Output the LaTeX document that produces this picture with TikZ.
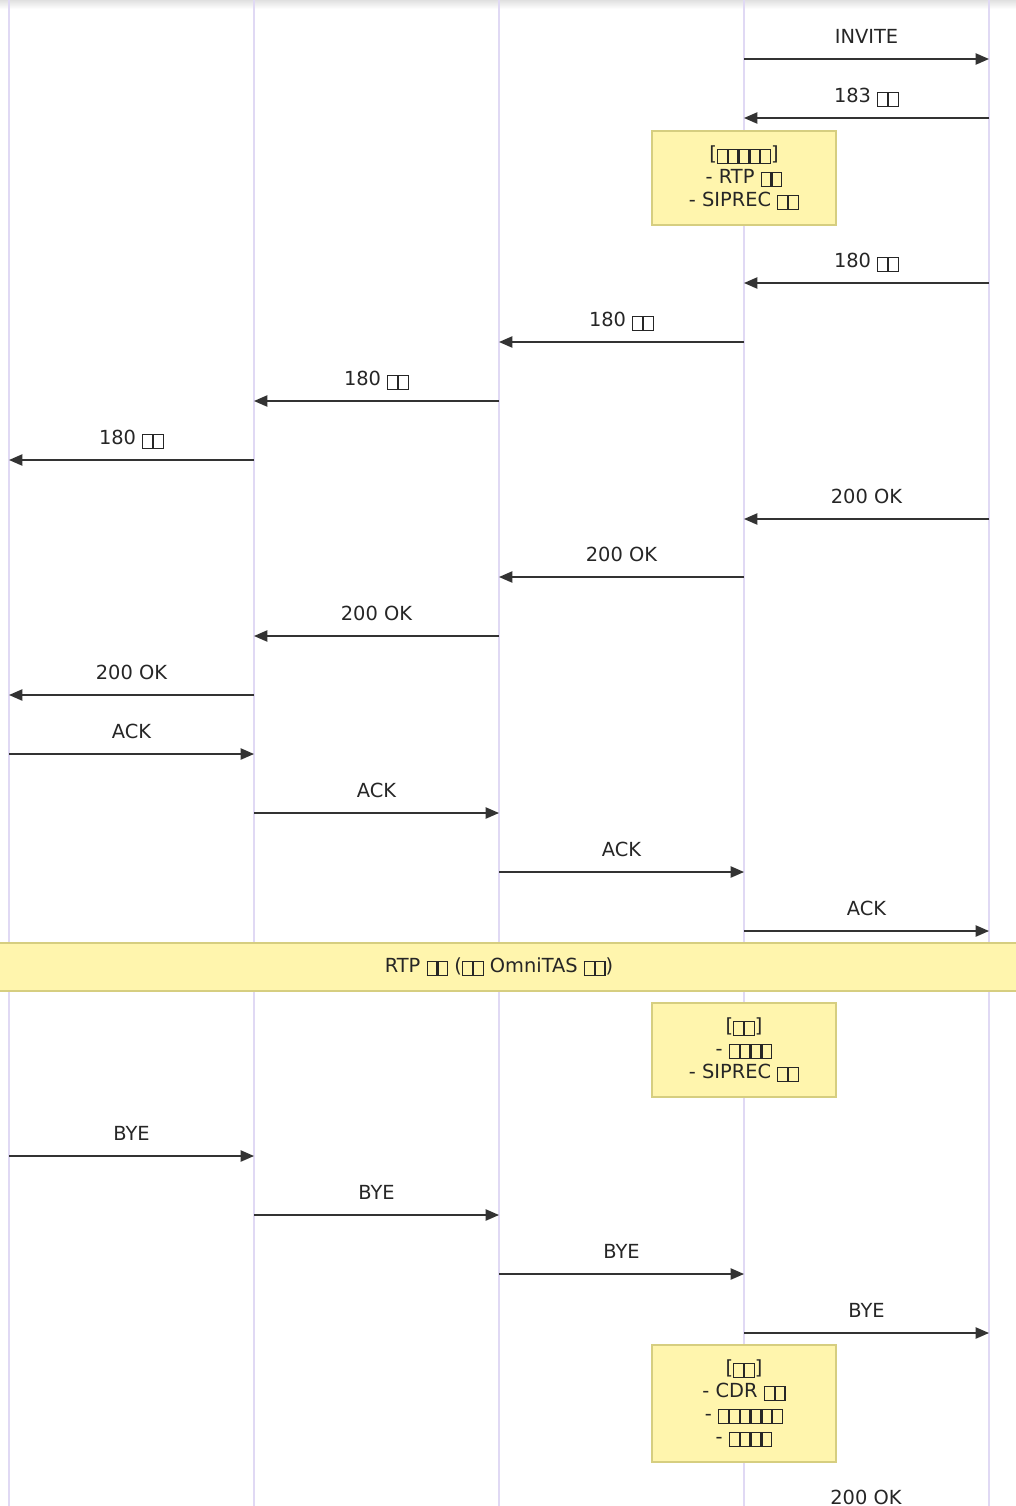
\documentclass[tikz,border=0pt]{standalone}
\usepackage{fontspec}
\setmainfont{DejaVu Sans}
\usepackage{xcolor}
\usetikzlibrary{arrows.meta}
\definecolor{lifeline}{HTML}{E0D9F4}
\definecolor{notefill}{HTML}{FFF5AD}
\definecolor{notedraw}{HTML}{D6CE80}
\definecolor{msgline}{HTML}{333333}
% missing glyph box, as the picture prints it
\newcommand{\tofu}{\raisebox{-0.14em}{\fboxsep=0pt\fboxrule=0.06em\fbox{\rule{0pt}{0.66em}\rule{0.44em}{0pt}}}}

\begin{document}
\begin{tikzpicture}[x=0.025cm, y=-0.025cm,
    every node/.style={font=\fontsize{13.8}{16.3}\selectfont, text=black!85},
    msg/.style={-{Triangle[length=9.5pt,width=8pt]}, line width=1.1pt, msgline},
    note/.style={draw=notedraw, fill=notefill, line width=0.8pt, align=center, inner sep=0pt}]
   \useasboundingbox (0,0) rectangle (1016,1506);
   % Shadow along the top
   \shade[top color=black!12, bottom color=white] (0,0) rectangle (1016,9);
   % Lifelines
   \foreach \n/\x in {a/9, b/254, c/499, d/744, e/989} {
      \coordinate (\n top) at (\x,0);
      \coordinate (\n bot) at (\x,1506);
      \draw[lifeline, line width=1.6pt] (\n top) -- (\n bot);
   }
   % Setup messages
   \foreach \i/\f/\t/\y/\lab in {1/d/e/59/INVITE, 2/e/d/118/{183 \tofu\tofu},
        4/e/d/283/{180 \tofu\tofu}, 5/d/c/342/{180 \tofu\tofu},
        6/c/b/401/{180 \tofu\tofu}, 7/b/a/460/{180 \tofu\tofu},
        8/e/d/519/200 OK, 9/d/c/577/200 OK, 10/c/b/636/200 OK, 11/b/a/695/200 OK,
        12/a/b/754/ACK, 13/b/c/813/ACK, 14/c/d/872/ACK, 15/d/e/931/ACK} {
      \coordinate (m\i s) at (\f top |- 0,\y);
      \coordinate (m\i e) at (\t top |- 0,\y);
      \draw[msg] (m\i s) -- node[midway, anchor=base, yshift=10.8pt] (l\i) {\lab} (m\i e);
   }
   % Notes on the AS lifeline
   \node[note, minimum width=4.6cm, minimum height=2.35cm] (early) at (744,178)
      {[\tofu\tofu\tofu\tofu\tofu]\\- RTP \tofu\tofu\\- SIPREC \tofu\tofu};
   % Media phase
   \node[note, minimum width=27cm, minimum height=1.2cm] (rtp) at (499,967)
      {RTP \tofu\tofu\ (\tofu\tofu\ OmniTAS \tofu\tofu)};
   \node[note, minimum width=4.6cm, minimum height=2.35cm] (mid) at (744,1050)
      {[\tofu\tofu]\\- \tofu\tofu\tofu\tofu\\- SIPREC \tofu\tofu};
   % Teardown
   \foreach \i/\f/\t/\y in {18/a/b/1156, 19/b/c/1215, 20/c/d/1274, 21/d/e/1333} {
      \coordinate (m\i s) at (\f top |- 0,\y);
      \coordinate (m\i e) at (\t top |- 0,\y);
      \draw[msg] (m\i s) -- node[midway, anchor=base, yshift=10.8pt] (l\i) {BYE} (m\i e);
   }
   \node[note, minimum width=4.6cm, minimum height=2.925cm] (final) at (744,1403.5)
      {[\tofu\tofu]\\- CDR \tofu\tofu\\- \tofu\tofu\tofu\tofu\tofu\tofu\\- \tofu\tofu\tofu\tofu};
   \node[anchor=base] (l23) at (866,1504) {200 OK};
\end{tikzpicture}
\end{document}
